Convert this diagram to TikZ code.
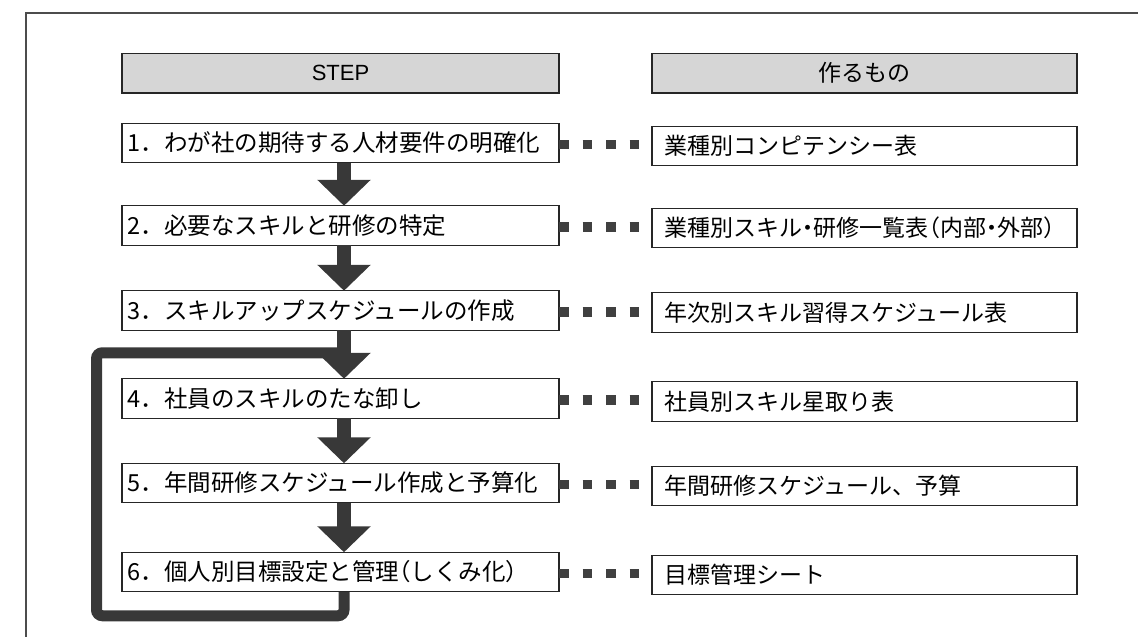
\documentclass[tikz,border=0pt]{standalone}
\usepackage{fontspec}
\setmainfont{Noto Sans CJK JP}
\newfontfamily\jphw[RawFeature=+halt]{Noto Sans CJK JP}
\newfontfamily\latinsans{Liberation Sans}
\usetikzlibrary{arrows.meta}
\newcommand\hwc[1]{{\jphw #1}}
\begin{document}
\begin{tikzpicture}[x=1pt,y=-1pt,
  every node/.style={inner sep=0pt, outer sep=0pt},
  hdrbox/.style={draw=black!85, line width=1.1pt, fill=black!16, minimum height=39.5pt, font=\fontsize{23}{26}\selectfont},
  stepbox/.style={draw=black!85, line width=1.1pt, fill=white, minimum width=437pt, minimum height=39.5pt, inner xsep=5.5pt, text width=426pt, align=left, font=\fontsize{23.5}{26}\selectfont},
  outbox/.style={draw=black!85, line width=1.1pt, fill=white, minimum width=425pt, minimum height=39.5pt, inner xsep=12pt, text width=401pt, align=left, font=\fontsize{23}{26}\selectfont},
  dotline/.style={draw=black!75, line width=9.5pt, dash pattern=on 9.5pt off 14pt},
  bigarrow/.style={draw=black!78, line width=14pt, -{Triangle[width=52pt,length=26pt]}},
  loopline/.style={draw=black!78, line width=11pt, rounded corners=6pt},
  frameline/.style={draw=black!70, line width=1.4pt}
]
\useasboundingbox (0,0) rectangle (1138,637);
\draw[frameline] (26,637) -- (26,13) -- (1138,13);

\node[hdrbox, minimum width=437pt] (h1) at (340.5,73.25) {\latinsans\fontsize{22}{26}\selectfont STEP};
\node[hdrbox, minimum width=425pt] (h2) at (864.5,73.25) {作るもの};

\node[stepbox] (s1) at (340.5,143) {1．わが社の期待する人材要件の明確化};
\node[stepbox] (s2) at (340.5,225.5) {2．必要なスキルと研修の特定};
\node[stepbox] (s3) at (340.5,310.5) {3．スキルアップスケジュールの作成};
\node[stepbox] (s4) at (340.5,398.5) {4．社員のスキルのたな卸し};
\node[stepbox] (s5) at (340.5,483) {5．年間研修スケジュール作成と予算化};
\node[stepbox] (s6) at (340.5,572) {6．個人別目標設定と管理\hwc{（}しくみ化\hwc{）}};

\node[outbox] (r1) at (864.5,146) {業種別コンピテンシー表};
\node[outbox] (r2) at (864.5,228) {業種別スキル\hwc{・}研修一覧表\hwc{（}内部\hwc{・}外部\hwc{）}};
\node[outbox] (r3) at (864.5,312.5) {年次別スキル習得スケジュール表};
\node[outbox] (r4) at (864.5,401.5) {社員別スキル星取り表};
\node[outbox] (r5) at (864.5,486) {年間研修スケジュール、予算};
\node[outbox] (r6) at (864.5,575) {目標管理シート};

\foreach \i in {1,...,6}{
  \draw[dotline] ([yshift=-1.5pt]s\i.east) -- ([yshift=-1.5pt]s\i.east -| r\i.west);
}

\coordinate (ax) at (344,0);
\coordinate (lx) at (96.5,0);
\draw[loopline] (s6.south -| ax) -- ([yshift=-24pt]s6.south -| ax) -- ([yshift=-24pt]s6.south -| lx) -- ([yshift=26pt]s4.north -| lx) -- ([yshift=26pt]s4.north -| ax);

\draw[bigarrow] (s1.south -| ax) -- (s2.north -| ax);
\draw[bigarrow] (s2.south -| ax) -- (s3.north -| ax);
\draw[bigarrow] (s3.south -| ax) -- (s4.north -| ax);
\draw[bigarrow] (s4.south -| ax) -- (s5.north -| ax);
\draw[bigarrow] (s5.south -| ax) -- (s6.north -| ax);
\end{tikzpicture}
\end{document}
